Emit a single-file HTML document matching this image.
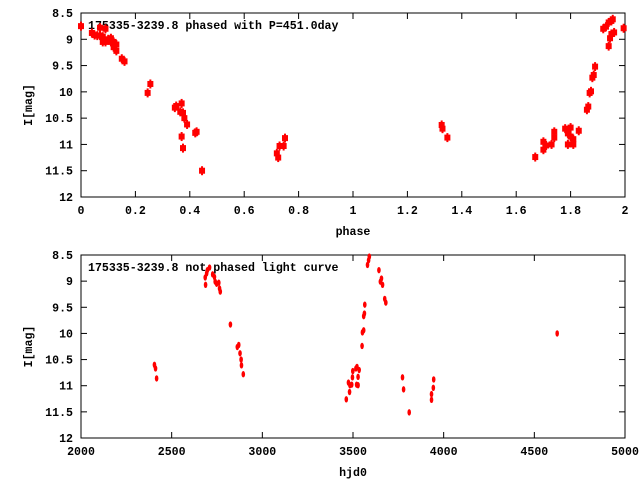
<!DOCTYPE html>
<html><head><meta charset="utf-8"><style>
body{margin:0;background:#fff}
svg text{font-family:"Liberation Mono",monospace;font-size:11.6px;font-weight:bold;fill:#000}
</style></head><body>
<svg id="c" width="640" height="480" xmlns="http://www.w3.org/2000/svg"></svg>
<script>
const phaseX=[0,0.04,0.05,0.06,0.07,0.07,0.08,0.08,0.09,0.09,0.1,0.11,0.11,0.12,0.12,0.13,0.13,0.15,0.16,0.245,0.255,0.345,0.35,0.365,0.37,0.375,0.38,0.39,0.37,0.375,0.42,0.425,0.445,0.72,0.725,0.73,0.745,0.75,1.326,1.329,1.347,1.67,1.70,1.71,1.70,1.73,1.74,1.74,1.78,1.79,1.80,1.79,1.80,1.81,1.81,1.83,1.86,1.865,1.87,1.875,1.88,1.885,1.89,1.92,1.93,1.94,1.95,1.955,1.94,1.945,1.95,1.96,1.995];
const phaseMag=[8.75,8.88,8.92,8.93,8.93,8.78,8.95,9.05,8.8,9.05,9.0,9.05,8.98,9.05,9.15,9.1,9.22,9.37,9.42,10.02,9.85,10.3,10.27,10.38,10.22,10.4,10.5,10.62,10.85,11.07,10.78,10.76,11.5,11.17,11.25,11.03,11.03,10.88,10.63,10.7,10.87,11.24,10.95,11.02,11.1,11.0,10.87,10.76,10.7,10.79,10.68,11.0,10.85,10.9,11.0,10.74,10.34,10.28,10.02,9.99,9.73,9.68,9.52,8.8,8.76,8.68,8.65,8.62,9.13,8.98,8.9,8.87,8.79];
const hjd=[2405,2411,2417,2685,2687,2693,2697,2709,2726,2736,2740,2748,2760,2764,2768,2824,2862,2870,2877,2883,2885,2895,3463,3475,3481,3483,3493,3497,3499,3516,3522,3520,3528,3528,3534,3550,3552,3559,3559,3563,3565,3580,3586,3590,3643,3651,3657,3663,3675,3681,3773,3779,3810,3933,3933,3943,3945,4626];
const hjdMag=[10.6,10.67,10.86,8.93,9.07,8.85,8.79,8.74,8.87,8.92,9.01,9.05,9.03,9.14,9.2,9.83,10.26,10.22,10.38,10.5,10.61,10.78,11.26,10.94,11.12,10.99,10.98,10.84,10.72,10.67,10.64,10.98,10.83,10.99,10.7,10.24,9.98,9.94,9.67,9.62,9.45,8.69,8.6,8.53,8.79,9.01,8.95,9.07,9.34,9.41,10.84,11.07,11.51,11.16,11.27,11.04,10.88,10.0];
const topXTicks=[0,0.2,0.4,0.6,0.8,1,1.2,1.4,1.6,1.8,2];
const botXTicks=[2000,2500,3000,3500,4000,4500,5000];
const yTicks=[8.5,9,9.5,10,10.5,11,11.5,12];

const svg=document.getElementById('c');const NS='http://www.w3.org/2000/svg';
function mk(t,a,p){const e=document.createElementNS(NS,t);for(const k in a)e.setAttribute(k,a[k]);(p||svg).appendChild(e);return e;}
function panel(name,L,T,R,B,x0,x1,xt,fmt,xs,ys,title,xlabel,big){
  const g=mk('g',{});
  
  
  const X=v=>L+(v-x0)/(x1-x0)*(R-L), Y=v=>T+(v-8.5)/3.5*(B-T);
  const fr=mk('rect',{x:L,y:T,width:R-L,height:B-T,fill:'none',stroke:'#000','stroke-width':1},g);
  
  
  xt.forEach(v=>{const x=X(v);
    mk('line',{x1:x,x2:x,y1:B,y2:B-6,stroke:'#000'},g);mk('line',{x1:x,x2:x,y1:T,y2:T+6,stroke:'#000'},g);
    const t=mk('text',{x:x,y:B+17,'text-anchor':'middle'},g);t.textContent=fmt(v);
    
    });
  yTicks.forEach(v=>{const y=Y(v);
    mk('line',{x1:L,x2:L+6,y1:y,y2:y,stroke:'#000'},g);mk('line',{x1:R,x2:R-6,y1:y,y2:y,stroke:'#000'},g);
    const t=mk('text',{x:L-8,y:y+4,'text-anchor':'end'},g);t.textContent=String(v);
    
    });
  const tt=mk('text',{x:L+7,y:T+16},g);tt.textContent=title;
  
  
  const xl=mk('text',{x:(L+R)/2,y:B+38,'text-anchor':'middle'},g);xl.textContent=xlabel;
  
  
  const cy=(T+B)/2;const yl=mk('text',{x:32,y:cy,'text-anchor':'middle',transform:'rotate(-90 32 '+cy+')'},g);yl.textContent='I[mag]';
  
  
  xs.forEach((v,i)=>{const x=X(v),y=Y(ys[i]);let p;
    if(big){p=mk('rect',{x:x-3,y:y-3,width:6,height:6,fill:'#f00'},g);mk('line',{x1:x,x2:x,y1:y-4.5,y2:y+4.5,stroke:'#f00','stroke-width':2},g);}
    else{p=mk('ellipse',{cx:x,cy:y,rx:1.8,ry:3.2,fill:'#f00'},g);}
    
    });
}
panel('phased-plot',81,13,625,197,0,2,topXTicks,v=>String(Math.round(v*10)/10),phaseX,phaseMag,'175335-3239.8 phased with P=451.0day','phase',true);
panel('light-curve-plot',81,255,625,438,2000,5000,botXTicks,v=>String(v),hjd,hjdMag,'175335-3239.8 not phased light curve','hjd0',false);
</script>
</body></html>
